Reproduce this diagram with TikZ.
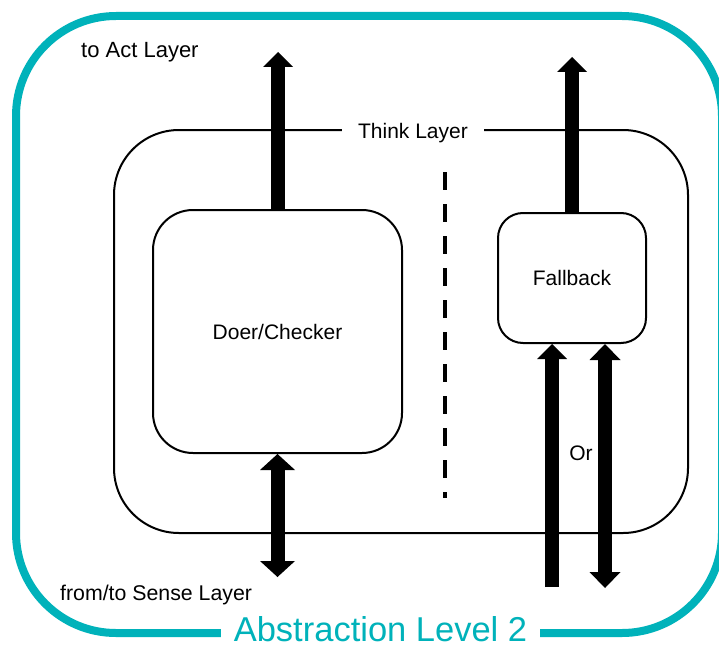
\documentclass[tikz,border=0pt]{standalone}
\usepackage{fontspec}
\setmainfont{Liberation Sans}
\usetikzlibrary{arrows.meta}
\definecolor{frameteal}{RGB}{0,178,186}

\begin{document}
\begin{tikzpicture}[x=1pt,y=-1pt,
  box/.style={draw,line width=2pt,rounded corners=#1,inner sep=0pt,
    font=\fontsize{21}{25}\selectfont},
  lbl/.style={inner sep=0pt,font=\fontsize{21}{25}\selectfont},
  flow/.style={line width=14pt},
  up/.style={-{Triangle[width=30pt,length=15pt,line width=0pt]}},
  both/.style={{Triangle[width=#1,length=16pt,line width=0pt]}-{Triangle[width=#1,length=16pt,line width=0pt]}},
  sep/.style={line width=4pt,dash pattern=on 18pt off 14pt}]
\useasboundingbox (0,0) rectangle (719,650);

% outer abstraction frame
\node[draw=frameteal,line width=8pt,rounded corners=100pt,
  minimum width=706pt,minimum height=617pt,inner sep=0pt] (frame) at (369,324.5) {};
\node[fill=white,text=frameteal,inner xsep=13pt,inner ysep=2pt,anchor=base,
  font=\fontsize{34.5}{40}\selectfont] (level) at (380.5,641) {Abstraction Level 2};

% think layer container
\node[box=65pt,minimum width=574pt,minimum height=403pt] (think) at (401,331.5) {};
\node[lbl,fill=white,inner xsep=16pt,inner ysep=2pt,anchor=base] (title) at (413,138) {Think Layer};

% inner blocks
\node[box=40pt,minimum width=249pt,minimum height=243pt] (doer) at (277.5,331.5) {Doer/Checker};
\node[box=25pt,minimum width=148pt,minimum height=130pt] (fallback) at (572,278) {Fallback};

% separator
\coordinate (sepTop) at (445,172);
\coordinate (sepBot) at (445,498);
\draw[sep] (sepTop) -- (sepBot);

% free labels
\node[lbl,anchor=base west,font=\fontsize{22}{26}\selectfont] (act) at (81,58) {to Act Layer};
\node[lbl,anchor=base west,font=\fontsize{21.3}{25}\selectfont] (sense) at (60,600) {from/to Sense Layer};
\node[lbl,anchor=base] (or) at (581,460) {Or};

% flows
\coordinate (actL) at (278,52);
\coordinate (actR) at (572,57);
\coordinate (senseEnd) at (277.5,577);
\coordinate (inL) at (552,587);
\coordinate (inR) at (605,588);

\draw[flow,up] (doer.north -| actL) -- (actL);
\draw[flow,up] (fallback.north -| actR) -- (actR);
\draw[flow,both=35pt] (doer.south) -- (senseEnd);
\draw[flow,up] (inL) -- (fallback.south -| inL);
\draw[flow,both=31pt] (fallback.south -| inR) -- (inR);
\end{tikzpicture}
\end{document}
